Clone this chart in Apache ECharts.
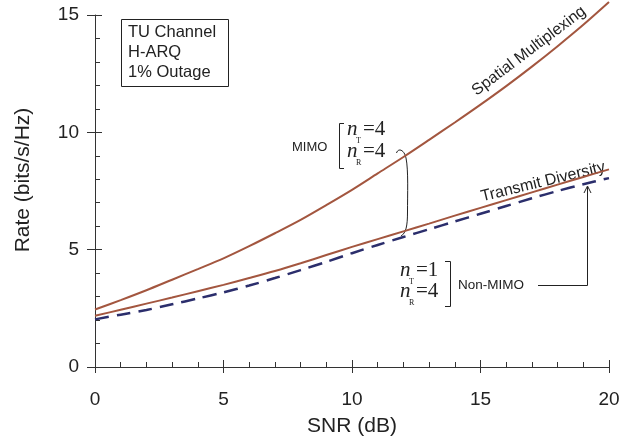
<!DOCTYPE html>
<html>
<head>
<meta charset="utf-8">
<script src="https://cdn.jsdelivr.net/npm/echarts@6/dist/echarts.min.js"></script>
<style>html,body{margin:0;padding:0;background:#fff;}#c{width:639px;height:445px;}</style>
</head>
<body>
<div id="c"></div>
<script>
const snr = [0,1,2,3,4,5,6,7,8,9,10,11,12,13,14,15,16,17,18,19,20];
const spatialMultiplexing = [2.45,2.85,3.27,3.72,4.17,4.63,5.15,5.7,6.27,6.9,7.55,8.25,8.95,9.68,10.42,11.18,11.97,12.8,13.67,14.58,15.55];
const transmitDiversity = [2.18,2.44,2.7,2.96,3.23,3.5,3.79,4.09,4.42,4.77,5.12,5.45,5.78,6.11,6.45,6.78,7.11,7.44,7.77,8.1,8.42];
const nonMimo = [2.03,2.23,2.43,2.67,2.92,3.18,3.47,3.79,4.13,4.48,4.85,5.2,5.54,5.87,6.2,6.53,6.86,7.19,7.5,7.79,8.05];
const xTicks = [0,5,10,15,20];
const yTicks = [0,5,10,15];

const pairs = arr => snr.map((x,i)=>[x,arr[i]]);
const brown = '#a3563f';
const navy = '#2b2e6c';
const axisCol = '#333';
const font = 'Liberation Sans, Arial, sans-serif';
const serif = 'Liberation Serif, Times New Roman, serif';

const chart = echarts.init(document.getElementById('c'), null, {renderer:'canvas'});
const baseX = {
  type:'value', min:xTicks[0], max:xTicks[xTicks.length-1], interval:5,
  splitLine:{show:false}, position:'bottom'
};
const baseY = {
  type:'value', min:yTicks[0], max:yTicks[yTicks.length-1], interval:5,
  splitLine:{show:false}, position:'left'
};
const t = (x,y,text,style,extra) => Object.assign({type:'text', x:x, y:y, style:Object.assign({text:text, fill:'#222', font:'14px '+font}, style)}, extra||{});
const stroke = {stroke:'#222', lineWidth:1, fill:null};

chart.setOption({
  animation:false,
  backgroundColor:'#fff',
  grid:{left:95, right:30, top:15, bottom:78},
  xAxis:[
    Object.assign({}, baseX, {
      name:'SNR (dB)', nameLocation:'middle', nameGap:49,
      nameTextStyle:{fontFamily:font, fontSize:21, color:'#222'},
      axisLine:{show:true, onZero:false, lineStyle:{color:axisCol, width:1}},
      axisTick:{show:true, inside:false, length:6, lineStyle:{color:axisCol}},
      axisLabel:{show:true, fontFamily:font, fontSize:19, color:'#222', margin:23}
    }),
    Object.assign({}, baseX, {
      axisLine:{show:false}, axisLabel:{show:false},
      axisTick:{show:true, inside:true, length:7, lineStyle:{color:axisCol}},
      minorTick:{show:true, splitNumber:5, length:5, lineStyle:{color:axisCol}}
    })
  ],
  yAxis:[
    Object.assign({}, baseY, {
      name:'Rate (bits/s/Hz)', nameLocation:'middle', nameGap:61,
      nameTextStyle:{fontFamily:font, fontSize:21, color:'#222', padding:[0,0,0,22]},
      axisLine:{show:true, onZero:false, lineStyle:{color:axisCol, width:1}},
      axisTick:{show:true, inside:false, length:8, lineStyle:{color:axisCol}},
      axisLabel:{show:true, fontFamily:font, fontSize:19, color:'#222', margin:16}
    }),
    Object.assign({}, baseY, {
      axisLine:{show:false}, axisLabel:{show:false},
      axisTick:{show:true, inside:true, length:7, lineStyle:{color:axisCol}},
      minorTick:{show:true, splitNumber:5, length:5, lineStyle:{color:axisCol}}
    })
  ],
  series:[
    {name:'Spatial Multiplexing', type:'line', data:pairs(spatialMultiplexing), smooth:0.3, showSymbol:false, clip:false,
     lineStyle:{color:brown, width:2}},
    {name:'Transmit Diversity', type:'line', data:pairs(transmitDiversity), smooth:0.3, showSymbol:false, clip:false,
     lineStyle:{color:brown, width:2}},
    {name:'Non-MIMO', type:'line', data:pairs(nonMimo), smooth:0.3, showSymbol:false, clip:false,
     lineStyle:{color:navy, width:2.5, type:[14,8]}}
  ],
  graphic:[
    {type:'rect', shape:{x:121.5, y:19.5, width:107, height:67}, style:{fill:'#fff', stroke:'#222', lineWidth:1}},
    t(128, 32, 'TU Channel', {font:'16.5px '+font, textVerticalAlign:'middle'}),
    t(128, 52, 'H-ARQ', {font:'16.5px '+font, textVerticalAlign:'middle'}),
    t(128, 72, '1% Outage', {font:'16.5px '+font, textVerticalAlign:'middle'}),

    t(529, 51, 'Spatial Multiplexing', {font:'16px '+font, textAlign:'center', textVerticalAlign:'middle'}, {rotation:37*Math.PI/180}),
    t(543, 182, 'Transmit Diversity', {font:'16px '+font, textAlign:'center', textVerticalAlign:'middle'}, {rotation:13.7*Math.PI/180}),

    t(292, 147, 'MIMO', {font:'13px '+font, textVerticalAlign:'middle'}),
    {type:'polyline', shape:{points:[[344,123.5],[339.5,123.5],[339.5,168.5],[344,168.5]]}, style:stroke},
    t(347, 140, 'n', {font:'italic 21px '+serif, textVerticalAlign:'bottom'}),
    t(356, 145, 'T', {font:'8px '+serif, textVerticalAlign:'bottom'}),
    t(363, 140, '=4', {font:'21px '+serif, textVerticalAlign:'bottom'}),
    t(347, 162, 'n', {font:'italic 21px '+serif, textVerticalAlign:'bottom'}),
    t(356, 167, 'R', {font:'8px '+serif, textVerticalAlign:'bottom'}),
    t(363, 162, '=4', {font:'21px '+serif, textVerticalAlign:'bottom'}),
    {type:'bezierCurve', shape:{x1:396.5, y1:153, cpx1:398, cpy1:148, cpx2:404, cpy2:149, x2:406, y2:158}, style:stroke},
    {type:'bezierCurve', shape:{x1:406, y1:158, cpx1:408.5, cpy1:170, cpx2:407.5, cpy2:195, x2:407.5, y2:212}, style:stroke},
    {type:'bezierCurve', shape:{x1:407.5, y1:212, cpx1:407.5, cpy1:226, cpx2:406, cpy2:233, x2:401, y2:236}, style:stroke},

    t(400, 281, 'n', {font:'italic 21px '+serif, textVerticalAlign:'bottom'}),
    t(409, 286, 'T', {font:'8px '+serif, textVerticalAlign:'bottom'}),
    t(416, 281, '=1', {font:'21px '+serif, textVerticalAlign:'bottom'}),
    t(400, 302, 'n', {font:'italic 21px '+serif, textVerticalAlign:'bottom'}),
    t(409, 307, 'R', {font:'8px '+serif, textVerticalAlign:'bottom'}),
    t(416, 302, '=4', {font:'21px '+serif, textVerticalAlign:'bottom'}),
    {type:'polyline', shape:{points:[[445,261.5],[450.5,261.5],[450.5,306.5],[445,306.5]]}, style:stroke},
    t(458, 285, 'Non-MIMO', {font:'13.5px '+font, textVerticalAlign:'middle'}),
    {type:'polyline', shape:{points:[[538,285.5],[587.5,285.5],[587.5,187]]}, style:stroke},
    {type:'polyline', shape:{points:[[584,193],[587.5,186],[591,193]]}, style:stroke}
  ]
});
</script>
</body>
</html>
